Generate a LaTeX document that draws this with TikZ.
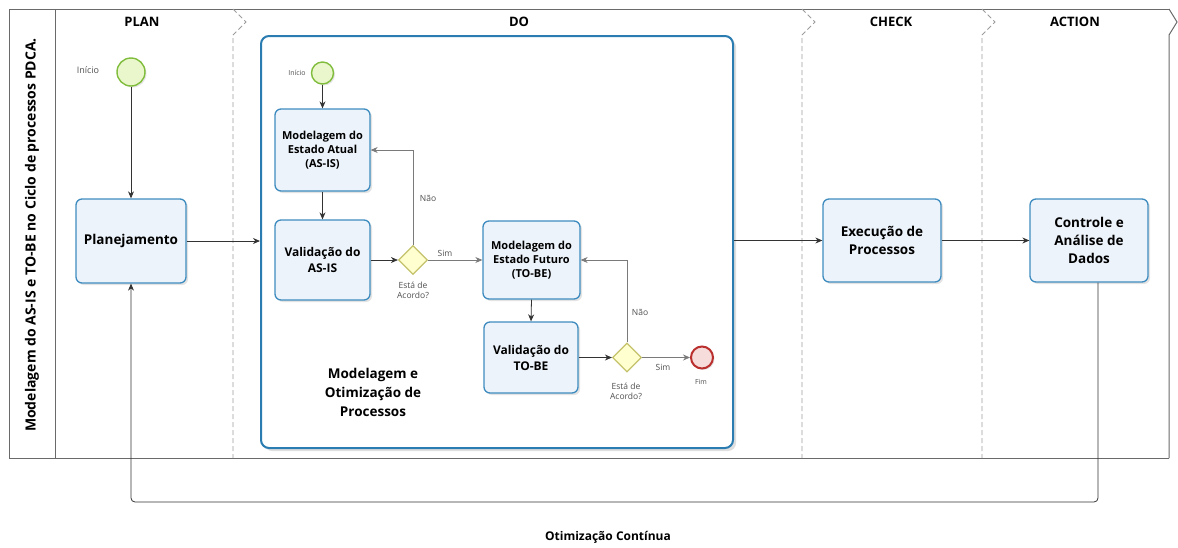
\documentclass[tikz,border=0pt]{standalone}
\usepackage{fontspec}
\setmainfont{Open Sans}
\usetikzlibrary{arrows.meta,shapes.geometric,shadows,calc}

\definecolor{taskborder}{HTML}{3E8CBF}
\definecolor{taskfill}{HTML}{EDF3FA}
\definecolor{subborder}{HTML}{2A7CB1}
\definecolor{startborder}{HTML}{80BD3C}
\definecolor{startfill}{HTML}{EAF6CB}
\definecolor{endborder}{HTML}{B9302E}
\definecolor{endfill}{HTML}{F7DCDC}
\definecolor{gwborder}{HTML}{C4C26A}
\definecolor{gwfill}{HTML}{FFFFD0}
\definecolor{lanegray}{HTML}{9C9C9C}
\definecolor{poolgray}{HTML}{6A6A6A}
\definecolor{linedark}{HTML}{333333}
\definecolor{linegray}{HTML}{7A7A7A}
\definecolor{labelgray}{HTML}{505050}

\tikzset{
  task/.style={rectangle, rounded corners=6pt, draw=taskborder, line width=1.3pt,
    fill=taskfill, align=center, inner sep=2pt, font=\bfseries\fontsize{11}{14}\selectfont,
    drop shadow={opacity=0.22, shadow xshift=2pt, shadow yshift=-2pt}},
  subproc/.style={rectangle, rounded corners=8pt, draw=subborder, line width=2pt,
    fill=white, drop shadow={opacity=0.25, shadow xshift=3pt, shadow yshift=-3pt}},
  startev/.style={circle, draw=startborder, line width=1.4pt, fill=startfill, inner sep=0pt,
    drop shadow={opacity=0.2, shadow xshift=1.5pt, shadow yshift=-1.5pt}},
  endev/.style={circle, draw=endborder, line width=2pt, fill=endfill, inner sep=0pt,
    drop shadow={opacity=0.2, shadow xshift=1.5pt, shadow yshift=-1.5pt}},
  gateway/.style={diamond, aspect=1, draw=gwborder, line width=1.2pt, fill=gwfill,
    minimum size=29pt, inner sep=0pt},
  flow/.style={draw=linedark, line width=0.8pt, -{Stealth[length=7pt,width=6pt]}},
  flowg/.style={draw=linegray, line width=0.8pt, -{Stealth[length=7pt,width=6pt]}},
  lbl/.style={font=\fontsize{8.5}{10}\selectfont, text=labelgray, align=center, inner sep=0pt},
  header/.style={font=\bfseries\fontsize{13}{15}\selectfont},
  lanesep/.style={draw=lanegray, line width=0.8pt, dash pattern=on 5pt off 3pt},
}

\begin{document}
\begin{tikzpicture}[x=1pt, y=-1pt]
\useasboundingbox (0,0) rectangle (1178,547);

% pool frame and lanes
\draw[poolgray, line width=1pt] (1169,458) -- (9,458) -- (9,9) -- (1169,9);
\draw[poolgray, line width=1pt] (55,9) -- (55,458);
\draw[poolgray, line width=1pt] (1169,9) -- (1177,22) -- (1169,35) -- (1169,458);
\foreach \lx in {233, 802, 982} {
  \draw[lanesep] (\lx,9) -- (\lx+13,22) -- (\lx,35) -- (\lx,458);
}

% lane headers
\node[header] (hplan)  at (142,22)  {PLAN};
\node[header] (hdo)    at (519,22)  {DO};
\node[header] (hcheck) at (891,22)  {CHECK};
\node[header] (haction) at (1075,22) {ACTION};
\node[font=\bfseries\fontsize{14}{16}\selectfont, rotate=90] (pooltitle) at (32,235)
  {Modelagem do AS-IS e TO-BE no Ciclo de processos PDCA.};

% PLAN lane
\node[startev, minimum size=28pt] (start) at (131,72) {};
\node[font=\fontsize{9}{10}\selectfont, text=labelgray] (startlbl) at (88,70) {Início};
\node[task, minimum width=110pt, minimum height=84pt, font=\bfseries\fontsize{13.5}{16}\selectfont]
  (plan) at (131,241) {Planejamento};

% DO lane: sub-process
\node[subproc, minimum width=472pt, minimum height=412pt] (do) at (497,242) {};
\node[font=\bfseries\fontsize{13.5}{19}\selectfont, align=center] (dolabel) at (373,392)
  {Modelagem e\\Otimização de\\Processos};

\node[startev, minimum size=22pt] (istart) at (322.5,73) {};
\node[font=\fontsize{7}{8}\selectfont, text=labelgray] (istartlbl) at (297,73) {Início};
\node[task, minimum width=95pt, minimum height=82pt] (asis) at (322.5,150)
  {Modelagem do\\Estado Atual\\(AS-IS)};
\node[task, minimum width=95pt, minimum height=80pt, font=\bfseries\fontsize{12}{16}\selectfont]
  (valasis) at (322.5,260) {Validação do\\AS-IS};
\node[gateway] (gw1) at (413,260) {};
\node[lbl] (gw1lbl) at (413,290) {Está de\\Acordo?};
\node[task, minimum width=97pt, minimum height=78pt] (tobe) at (531.5,260)
  {Modelagem do\\Estado Futuro\\(TO-BE)};
\node[task, minimum width=94pt, minimum height=71pt, font=\bfseries\fontsize{12}{16}\selectfont]
  (valtobe) at (531,357.5) {Validação do\\TO-BE};
\node[gateway] (gw2) at (627,357.5) {};
\node[lbl] (gw2lbl) at (626,391) {Está de\\Acordo?};
\node[endev, minimum size=22pt] (iend) at (702,357.5) {};
\node[font=\fontsize{7}{8}\selectfont, text=labelgray] (iendlbl) at (701,382) {Fim};

% CHECK and ACTION lanes
\node[task, minimum width=118pt, minimum height=83pt, font=\bfseries\fontsize{13.5}{18}\selectfont]
  (exec) at (882,240.5) {Execução de\\Processos};
\node[task, minimum width=118pt, minimum height=83pt, font=\bfseries\fontsize{13.5}{18}\selectfont]
  (ctrl) at (1089,240.5) {Controle e\\Análise de\\Dados};

% flow labels
\node[lbl] (nao1) at (428,198) {Não};
\node[lbl] (sim1) at (445,253) {Sim};
\node[lbl] (nao2) at (640,312) {Não};
\node[lbl] (sim2) at (663,367) {Sim};

% sequence flows
\draw[flow] (start.south) -- (plan.north);
\draw[flow] (plan.east) -- (plan.east -| do.west);
\draw[flow] (istart.south) -- (asis.north);
\draw[flow] (asis.south) -- (valasis.north);
\draw[flow] (valasis.east) -- (gw1.west);
\draw[flowg] (gw1.north) |- (asis.east);
\draw[flowg] (gw1.east) -- (tobe.west);
\draw[flow] (tobe.south) -- (valtobe.north);
\draw[flow] (valtobe.east) -- (gw2.west);
\draw[flowg] (gw2.north) |- (tobe.east);
\draw[flowg] (gw2.east) -- (iend.west);
\draw[flow] (exec.west -| do.east) -- (exec.west);
\draw[flow] (exec.east) -- (ctrl.west);

% continuous improvement loop back to planning
\coordinate (loopr) at ([xshift=9pt]ctrl.south |- 0,502);
\draw[flow, rounded corners=4pt] ([xshift=9pt]ctrl.south) -- (loopr) -| (plan.south);
\node[font=\bfseries\fontsize{12}{14}\selectfont] (looplbl) at (608,537) {Otimização Contínua};

\end{tikzpicture}
\end{document}
